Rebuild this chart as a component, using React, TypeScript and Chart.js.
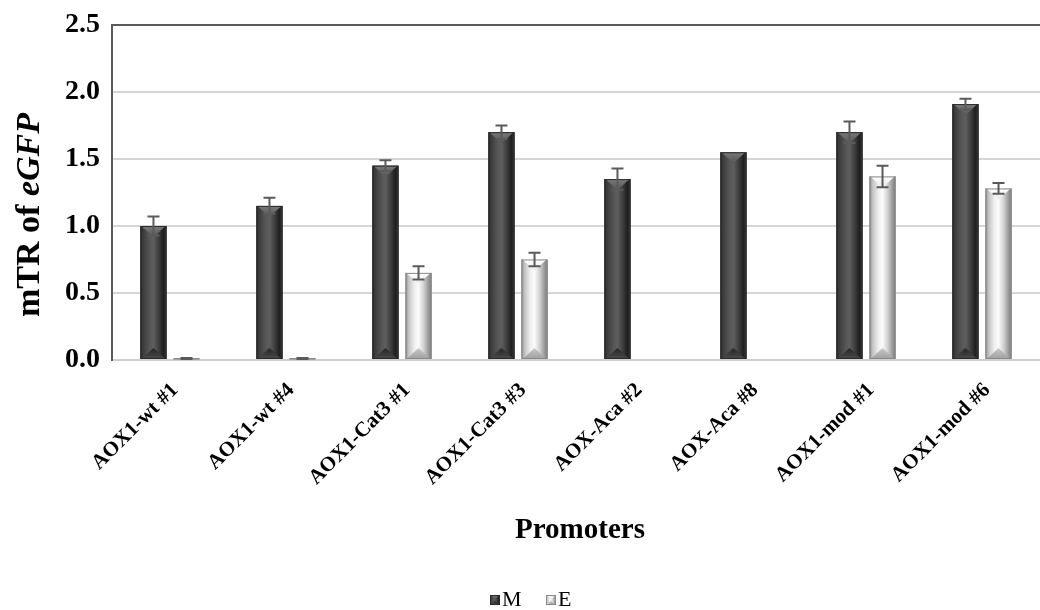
import React, { useEffect, useRef } from "react";
import { Chart, registerables } from "chart.js";

Chart.register(...registerables);

const categories = [
  "AOX1-wt #1",
  "AOX1-wt #4",
  "AOX1-Cat3 #1",
  "AOX1-Cat3 #3",
  "AOX-Aca #2",
  "AOX-Aca #8",
  "AOX1-mod #1",
  "AOX1-mod #6",
];
const mValues = [1.0, 1.15, 1.45, 1.7, 1.35, 1.55, 1.7, 1.91];
const mErrors = [0.07, 0.06, 0.04, 0.05, 0.08, 0.0, 0.08, 0.04];
const eValues = [0.01, 0.01, 0.65, 0.75, 0, 0, 1.37, 1.28];
const eErrors = [0.005, 0.005, 0.05, 0.05, 0, 0, 0.08, 0.04];
const seriesNames = ["M", "E"];
const yTicks = [0, 0.5, 1.0, 1.5, 2.0, 2.5];

const SERIF = "'Liberation Serif', 'Times New Roman', serif";

type Palette = { stops: [number, string][]; top: [string, string]; bottom: [string, string]; edge: string };

const darkPalette: Palette = {
  stops: [
    [0, "#2a2a2a"],
    [0.1, "#3c3c3c"],
    [0.35, "#565656"],
    [0.5, "#5e5e5e"],
    [0.7, "#3e3e3e"],
    [0.88, "#1f1f1f"],
    [1, "#383838"],
  ],
  top: ["#7a7a7a", "#555555"],
  bottom: ["#262626", "#4a4a4a"],
  edge: "#2a2a2a",
};

const lightPalette: Palette = {
  stops: [
    [0, "#8a8a8a"],
    [0.12, "#c4c4c4"],
    [0.35, "#f0f0f0"],
    [0.5, "#fbfbfb"],
    [0.7, "#d0d0d0"],
    [0.88, "#9a9a9a"],
    [1, "#7a7a7a"],
  ],
  top: ["#ffffff", "#e8e8e8"],
  bottom: ["#c8c8c8", "#a0a0a0"],
  edge: "#8a8a8a",
};

// Bevelled bar body: horizontal shading with a triangular facet at top and bottom
function drawBevelBar(ctx: CanvasRenderingContext2D, left: number, right: number, top: number, bottom: number, p: Palette) {
  const w = right - left;
  const h = bottom - top;
  if (w <= 0 || h <= 0) return;
  const g = ctx.createLinearGradient(left, 0, right, 0);
  p.stops.forEach(([o, c]) => g.addColorStop(o, c));
  ctx.save();
  ctx.fillStyle = g;
  ctx.fillRect(left, top, w, h);
  const b = Math.min(w * 0.42, h / 2);
  const cx = (left + right) / 2;
  if (b > 0.5) {
    const gt = ctx.createLinearGradient(0, top, 0, top + b);
    gt.addColorStop(0, p.top[0]);
    gt.addColorStop(1, p.top[1]);
    ctx.fillStyle = gt;
    ctx.beginPath();
    ctx.moveTo(left + 1, top);
    ctx.lineTo(right - 1, top);
    ctx.lineTo(cx, top + b);
    ctx.closePath();
    ctx.fill();
    const gb = ctx.createLinearGradient(0, bottom - b, 0, bottom);
    gb.addColorStop(0, p.bottom[0]);
    gb.addColorStop(1, p.bottom[1]);
    ctx.fillStyle = gb;
    ctx.beginPath();
    ctx.moveTo(left + 1, bottom);
    ctx.lineTo(right - 1, bottom);
    ctx.lineTo(cx, bottom - b);
    ctx.closePath();
    ctx.fill();
  }
  ctx.strokeStyle = p.edge;
  ctx.lineWidth = 1;
  ctx.strokeRect(left + 0.5, top + 0.5, w - 1, h - 1);
  ctx.restore();
}

const palettes = [darkPalette, lightPalette];
const errorSets = [mErrors, eErrors];

const barStylePlugin = {
  id: "barStyle",
  afterDatasetsDraw(chart: any) {
    const ctx: CanvasRenderingContext2D = chart.ctx;
    const yScale = chart.scales.y;
    ctx.save();
    ctx.beginPath();
    ctx.rect(chart.chartArea.left, chart.chartArea.top - 2, chart.chartArea.right - chart.chartArea.left, chart.chartArea.bottom - chart.chartArea.top + 2);
    ctx.clip();
    chart.data.datasets.forEach((ds: any, di: number) => {
      const meta = chart.getDatasetMeta(di);
      meta.data.forEach((el: any) => {
        const { x, y, base, width } = el.getProps(["x", "y", "base", "width"], true);
        drawBevelBar(ctx, x - width / 2, x + width / 2, Math.min(y, base), Math.max(y, base), palettes[di]);
      });
    });
    // error bars
    chart.data.datasets.forEach((ds: any, di: number) => {
      const meta = chart.getDatasetMeta(di);
      const errs = errorSets[di];
      meta.data.forEach((el: any, i: number) => {
        const err = errs[i];
        if (!err) return;
        const v = ds.data[i];
        const x = el.x;
        const yHi = yScale.getPixelForValue(v + err);
        const yLo = yScale.getPixelForValue(Math.max(v - err, 0));
        ctx.strokeStyle = "#5a5a5a";
        ctx.lineWidth = 2;
        ctx.beginPath();
        ctx.moveTo(x, yHi);
        ctx.lineTo(x, yLo);
        ctx.moveTo(x - 6, yHi);
        ctx.lineTo(x + 6, yHi);
        ctx.moveTo(x - 6, yLo);
        ctx.lineTo(x + 6, yLo);
        ctx.stroke();
      });
    });
    ctx.restore();
  },
};

const titlesPlugin = {
  id: "titles",
  afterDraw(chart: any) {
    const ctx: CanvasRenderingContext2D = chart.ctx;
    const area = chart.chartArea;
    ctx.save();
    ctx.fillStyle = "#000";
    // y-axis title with italic gene name
    const f1 = `bold 34px ${SERIF}`;
    const f2 = `italic bold 34px ${SERIF}`;
    const part1 = "mTR of ";
    const part2 = "eGFP";
    ctx.font = f1;
    const w1 = ctx.measureText(part1).width;
    ctx.font = f2;
    const w2 = ctx.measureText(part2).width;
    ctx.translate(30, 215);
    ctx.rotate(-Math.PI / 2);
    ctx.textBaseline = "middle";
    ctx.textAlign = "left";
    const start = -(w1 + w2) / 2;
    ctx.font = f1;
    ctx.fillText(part1, start, 0);
    ctx.font = f2;
    ctx.fillText(part2, start + w1, 0);
    ctx.restore();

    // x-axis title
    ctx.save();
    ctx.fillStyle = "#000";
    ctx.font = `bold 29px ${SERIF}`;
    ctx.textAlign = "center";
    ctx.textBaseline = "middle";
    ctx.fillText("Promoters", (area.left + area.right) / 2 + 4, 531);
    ctx.restore();

    // legend
    ctx.save();
    ctx.font = `22px ${SERIF}`;
    ctx.textBaseline = "middle";
    ctx.textAlign = "left";
    ctx.fillStyle = "#000";
    const boxes = [490, 546];
    seriesNames.forEach((name, i) => {
      const bx = boxes[i];
      drawBevelBar(ctx, bx, bx + 10, 595, 605, palettes[i]);
      ctx.fillText(name, bx + 12, 600);
    });
    ctx.restore();
  },
};

export default function App() {
  const canvasRef = useRef<HTMLCanvasElement | null>(null);

  useEffect(() => {
    document.body.style.margin = "0";
    const canvas = canvasRef.current;
    if (!canvas) return;
    const chart = new Chart(canvas, {
      type: "bar",
      data: {
        labels: categories,
        datasets: [
          { label: seriesNames[0], data: mValues, backgroundColor: "#444444", categoryPercentage: 0.57, barPercentage: 0.79 },
          { label: seriesNames[1], data: eValues, backgroundColor: "#cccccc", categoryPercentage: 0.57, barPercentage: 0.79 },
        ],
      },
      options: {
        animation: false,
        responsive: true,
        maintainAspectRatio: false,
        layout: { padding: { top: 25, right: 0, left: 0, bottom: 0 } },
        plugins: {
          legend: { display: false },
          tooltip: { enabled: false },
          title: { display: false },
        },
        scales: {
          x: {
            grid: { display: false, drawTicks: false },
            border: { display: true, color: "#d0d0d0", width: 2 },
            ticks: {
              autoSkip: false,
              minRotation: 45,
              maxRotation: 45,
              padding: 18,
              labelOffset: 5,
              color: "#000",
              font: { family: SERIF, size: 21, weight: "bold" },
            },
            afterFit(scale: any) {
              scale.height = 250;
              scale.paddingLeft = 0;
              scale.paddingRight = 0;
            },
          },
          y: {
            min: 0,
            max: 2.5,
            afterBuildTicks(scale: any) {
              scale.ticks = yTicks.map((v) => ({ value: v }));
            },
            grid: {
              drawTicks: false,
              lineWidth: 2,
              color: (c: any) => (c.tick && c.tick.value === 2.5 ? "#5a5a5a" : "#d6d6d6"),
            },
            border: { display: true, color: "#5a5a5a", width: 2 },
            ticks: {
              padding: 12,
              color: "#000",
              font: { family: SERIF, size: 28, weight: "bold" },
              callback: (v: any) => Number(v).toFixed(1),
            },
            afterFit(scale: any) {
              scale.width = 112;
              scale.paddingTop = 0;
              scale.paddingBottom = 0;
            },
          },
        },
      },
      plugins: [barStylePlugin, titlesPlugin],
    } as any);
    return () => chart.destroy();
  }, []);

  return (
    <div style={{ position: "relative", width: 1040, height: 610 }}>
      <canvas ref={canvasRef} />
    </div>
  );
}
